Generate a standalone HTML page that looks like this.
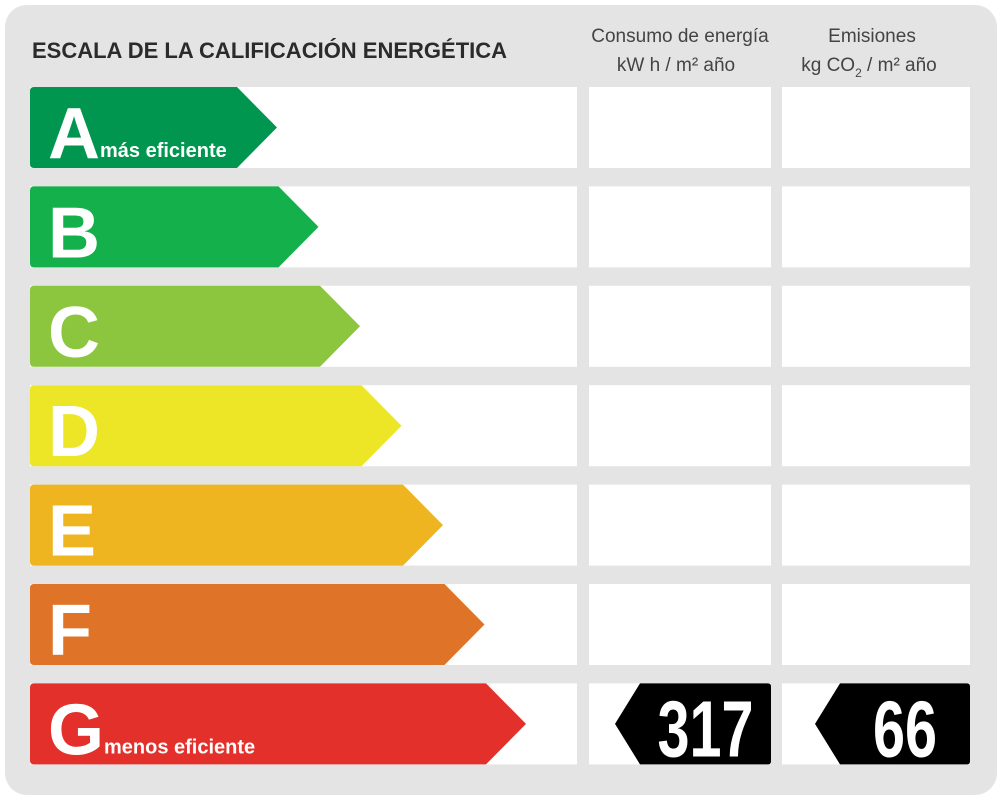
<!DOCTYPE html>
<html><head><meta charset="utf-8">
<style>
html,body{margin:0;padding:0;background:#fff;}
svg{display:block;font-family:"Liberation Sans",Arial,sans-serif;}
</style></head>
<body>
<svg id="chart" width="1000" height="800" viewBox="0 0 1000 800">
  <rect x="5" y="5" width="992" height="790" rx="22" fill="#e4e4e4"/>
  <text x="32" y="58" font-size="22" font-weight="bold" fill="#2b2b2b">ESCALA DE LA CALIFICACIÓN ENERGÉTICA</text>
  <g fill="#444" font-size="19" text-anchor="middle">
    <text x="680" y="42">Consumo de energía</text>
    <text x="676" y="71">kW h  / m² año</text>
  </g>
  <g fill="#444" font-size="19" text-anchor="middle">
    <text x="872" y="42">Emisiones</text>
    <text x="869" y="71">kg CO<tspan font-size="12" dy="6">2</tspan><tspan dy="-6">  / m² año</tspan></text>
  </g>
  <g id="rows"></g>
</svg>
<script>
const letters = ["A","B","C","D","E","F","G"];
const colors = ["#00964f","#13b04b","#8cc63f","#ece627","#efb520","#df7428","#e3302b"];
const subLabels = ["más eficiente","","","","","","menos eficiente"];
const ratingIndex = 6;
const energyValue = 317;
const emissionValue = 66;

const NS = "http://www.w3.org/2000/svg";
const g = document.getElementById("rows");
function mk(tag, attrs){const e=document.createElementNS(NS,tag);for(const k in attrs)e.setAttribute(k,attrs[k]);return e;}
const rowY = i => 87 + i*99.4;
const rowH = 81;
letters.forEach((L,i)=>{
  const y = rowY(i);
  const strip = mk("rect",{x:30,y:y,width:547,height:rowH,fill:"#fff"});
  
  
  g.appendChild(strip);
  const c1 = mk("rect",{x:589,y:y,width:182,height:rowH,fill:"#fff"});
  
  
  g.appendChild(c1);
  const c2 = mk("rect",{x:782,y:y,width:188,height:rowH,fill:"#fff"});
  
  
  g.appendChild(c2);
  const tip = 277 + i*41.5;
  const body = tip - 40;
  const d = `M34 ${y} H${body} L${tip} ${y+rowH/2} L${body} ${y+rowH} H34 Q30 ${y+rowH} 30 ${y+rowH-4} V${y+4} Q30 ${y} 34 ${y} Z`;
  const arrow = mk("path",{d:d,fill:colors[i]});
  
  
  g.appendChild(arrow);
  const t = mk("text",{x:48,y:y+71,"font-size":72,"font-weight":"bold",fill:"#fff"});
  t.textContent = L;
  
  
  g.appendChild(t);
  if(subLabels[i]){
    const s = mk("text",{x:i===6?104:100,y:y+70,"font-size":20,"font-weight":"bold",fill:"#fff"});
    s.textContent = subLabels[i];
    
    
    g.appendChild(s);
  }
});
function tag(x0,x1,val,name){
  const y = rowY(ratingIndex);
  const d = `M${x0+25} ${y} H${x1-3} Q${x1} ${y} ${x1} ${y+3} V${y+rowH-3} Q${x1} ${y+rowH} ${x1-3} ${y+rowH} H${x0+25} L${x0} ${y+rowH/2} Z`;
  const p = mk("path",{d:d,fill:"#000"});
  
  
  g.appendChild(p);
  const cx = (x0+25+x1)/2;
  const t = mk("text",{x:0,y:0,"font-size":80,"font-weight":"bold",fill:"#fff","text-anchor":"middle",transform:`translate(${cx},${y+73}) scale(0.72,1)`});
  t.textContent = val;
  
  
  g.appendChild(t);
}
tag(615,771,energyValue,"energy");
tag(815,970,emissionValue,"emission");
</script>
</body></html>
